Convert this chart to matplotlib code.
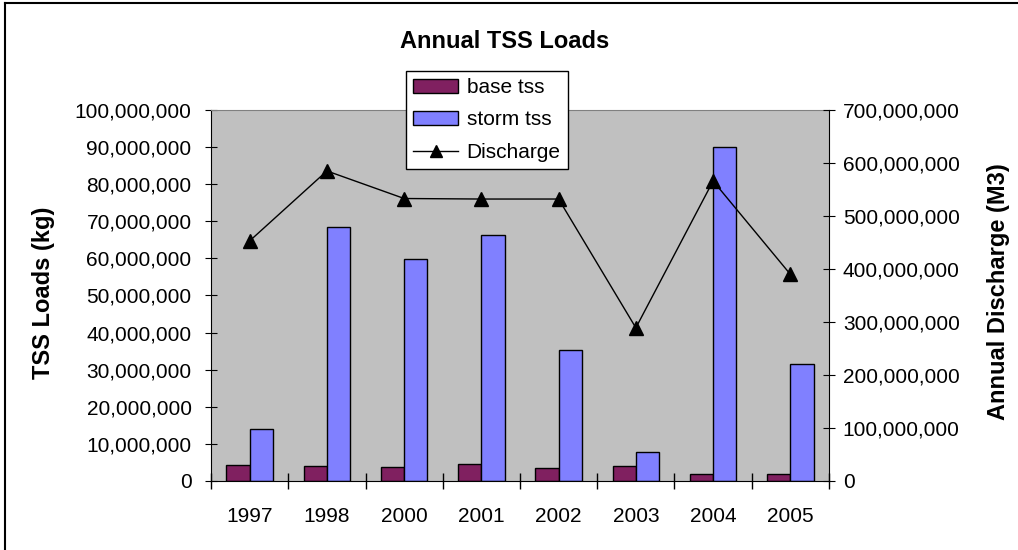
import numpy as np
import matplotlib.pyplot as plt
from matplotlib.ticker import FuncFormatter, MultipleLocator
from matplotlib.lines import Line2D

plt.rcParams['font.family'] = ['Liberation Sans', 'DejaVu Sans']

# Data
years = ['1997', '1998', '2000', '2001', '2002', '2003', '2004', '2005']
base_tss = [4.4e6, 4.1e6, 3.7e6, 4.5e6, 3.4e6, 4.1e6, 1.9e6, 1.9e6]
storm_tss = [14.0e6, 68.5e6, 59.8e6, 66.4e6, 35.4e6, 7.8e6, 89.9e6, 31.6e6]
discharge = [453e6, 585e6, 533e6, 532e6, 532e6, 289e6, 566e6, 390e6]

fig = plt.figure(figsize=(10.18, 5.5), dpi=100)
ax = fig.add_axes([0.2073, 0.1255, 0.607, 0.6745])
ax.set_facecolor('#C0C0C0')

x = np.arange(len(years))
w = 0.3
ax.bar(x - w/2, base_tss, w, color='#802060', edgecolor='black', linewidth=1, label='base tss', zorder=2)
ax.bar(x + w/2, storm_tss, w, color='#8080FF', edgecolor='black', linewidth=1, label='storm tss', zorder=2)

ax.set_xlim(-0.5, len(years) - 0.5)
ax.set_ylim(0, 100e6)
ax.yaxis.set_major_locator(MultipleLocator(10e6))
fmt = FuncFormatter(lambda v, p: f'{v:,.0f}')
ax.yaxis.set_major_formatter(fmt)
ax.set_xticks(x)
ax.set_xticklabels(years)
ax.set_xticks(np.arange(-0.5, len(years)), minor=True)
ax.tick_params(axis='x', which='major', length=0, labelsize=15, pad=19)
ax.tick_params(axis='x', which='minor', length=12, direction='inout', width=1)
ax.tick_params(axis='y', direction='inout', length=8, labelsize=15, pad=10)
ax.set_ylabel('TSS Loads (kg)', fontsize=17, fontweight='bold')
ax.yaxis.set_label_coords(-0.252, 0.507)

for s in ['left', 'bottom']:
    ax.spines[s].set_color('black')
ax.spines['top'].set_color('#808080')
ax.spines['right'].set_visible(False)

ax2 = ax.twinx()
ax2.plot(x, discharge, color='black', linewidth=1, marker='^', markersize=10, label='Discharge', zorder=3)
ax2.set_ylim(0, 700e6)
ax2.yaxis.set_major_locator(MultipleLocator(100e6))
ax2.yaxis.set_major_formatter(fmt)
ax2.tick_params(axis='y', direction='inout', length=8, labelsize=15, pad=6)
ax2.set_ylabel('Annual Discharge (M3)', fontsize=17, fontweight='bold')
ax2.yaxis.set_label_coords(1.255, 0.51)
for s in ['left', 'bottom', 'top']:
    ax2.spines[s].set_visible(False)
ax2.spines['right'].set_color('black')

fig.text(0.496, 0.925, 'Annual TSS Loads', ha='center', va='center', fontsize=17, fontweight='bold')

handles = [plt.Rectangle((0, 0), 1, 1, facecolor='#802060', edgecolor='black'),
           plt.Rectangle((0, 0), 1, 1, facecolor='#8080FF', edgecolor='black'),
           Line2D([], [], color='black', linewidth=1, marker='^', markersize=8)]
leg = fig.legend(handles, ['base tss', 'storm tss', 'Discharge'],
                 loc='upper left', bbox_to_anchor=(406/1018, 1 - 71/550),
                 fontsize=15, frameon=True, fancybox=False, edgecolor='black',
                 framealpha=1, borderpad=0.35, labelspacing=0.63, handlelength=2.16,
                 handleheight=0.62, handletextpad=0.4, borderaxespad=0)
leg.get_frame().set_linewidth(1)
leg.set_zorder(10)

# outer chart border (left and top visible)
fig.add_artist(Line2D([5/1018, 5/1018], [0, 1 - 3/550], color='black', linewidth=1.5, transform=fig.transFigure))
fig.add_artist(Line2D([5/1018, 1], [1 - 3/550, 1 - 3/550], color='black', linewidth=1.5, transform=fig.transFigure))

fig.savefig('out.png', dpi=100)
